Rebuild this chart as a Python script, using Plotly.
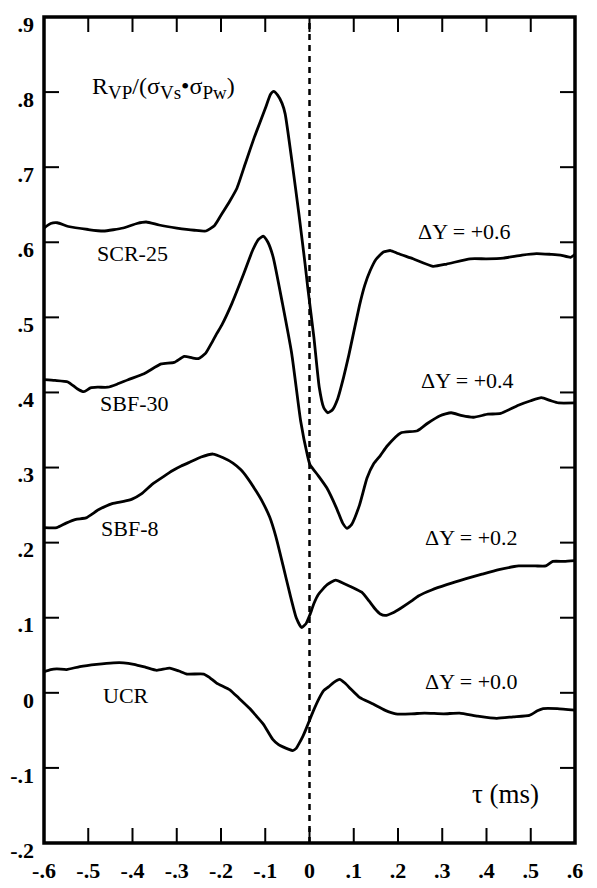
import plotly.graph_objects as go

# ---- data (values as plotted, each curve already shifted by its ΔY) ----
scr25_x = [-0.600, -0.585, -0.570, -0.545, -0.500, -0.466, -0.421, -0.390, -0.369, -0.340,
           -0.300, -0.260, -0.234, -0.215, -0.200, -0.180, -0.164, -0.145, -0.124, -0.100,
           -0.088, -0.081, -0.072, -0.062, -0.055, -0.039, -0.024, -0.010, -0.004, 0.010,
           0.022, 0.032, 0.041, 0.052, 0.064, 0.077, 0.089, 0.113, 0.125, 0.137,
           0.150, 0.167, 0.183, 0.200, 0.234, 0.279, 0.310, 0.363, 0.400, 0.438,
           0.480, 0.513, 0.545, 0.567, 0.590, 0.600]
scr25_y = [0.619, 0.625, 0.626, 0.621, 0.617, 0.615, 0.619, 0.625, 0.627, 0.623,
           0.619, 0.616, 0.615, 0.622, 0.636, 0.655, 0.672, 0.705, 0.741, 0.778,
           0.797, 0.801, 0.796, 0.785, 0.771, 0.705, 0.638, 0.571, 0.540, 0.473,
           0.407, 0.380, 0.373, 0.377, 0.392, 0.420, 0.450, 0.516, 0.543, 0.562,
           0.577, 0.587, 0.589, 0.585, 0.578, 0.568, 0.571, 0.578, 0.578, 0.579,
           0.583, 0.585, 0.584, 0.583, 0.580, 0.584]

sbf30_x = [-0.600, -0.575, -0.546, -0.525, -0.510, -0.495, -0.479, -0.456, -0.435, -0.410,
           -0.374, -0.335, -0.306, -0.283, -0.265, -0.251, -0.235, -0.221, -0.210, -0.198,
           -0.175, -0.150, -0.128, -0.115, -0.104, -0.094, -0.082, -0.061, -0.040, -0.020,
           -0.005, 0.001, 0.020, 0.039, 0.061, 0.075, 0.085, 0.095, 0.113, 0.130,
           0.145, 0.160, 0.176, 0.206, 0.244, 0.267, 0.295, 0.320, 0.345, 0.371,
           0.403, 0.432, 0.472, 0.500, 0.524, 0.545, 0.563, 0.600]
sbf30_y = [0.417, 0.416, 0.414, 0.405, 0.401, 0.406, 0.407, 0.407, 0.411, 0.417,
           0.425, 0.438, 0.440, 0.448, 0.446, 0.445, 0.452, 0.466, 0.478, 0.490,
           0.519, 0.556, 0.590, 0.604, 0.608, 0.600, 0.580, 0.518, 0.451, 0.362,
           0.317, 0.304, 0.289, 0.273, 0.246, 0.226, 0.219, 0.224, 0.250, 0.286,
           0.305, 0.316, 0.329, 0.346, 0.349, 0.359, 0.369, 0.373, 0.369, 0.367,
           0.371, 0.372, 0.383, 0.389, 0.393, 0.389, 0.386, 0.386]

sbf8_x = [-0.600, -0.571, -0.550, -0.528, -0.505, -0.476, -0.446, -0.420, -0.401, -0.380,
          -0.355, -0.330, -0.309, -0.290, -0.271, -0.245, -0.218, -0.195, -0.173, -0.155,
          -0.140, -0.120, -0.106, -0.090, -0.076, -0.060, -0.044, -0.030, -0.018, -0.008,
          0.001, 0.010, 0.020, 0.040, 0.059, 0.080, 0.095, 0.118, 0.135, 0.148,
          0.160, 0.171, 0.190, 0.207, 0.230, 0.246, 0.276, 0.310, 0.354, 0.390,
          0.428, 0.473, 0.510, 0.534, 0.550, 0.575, 0.600]
sbf8_y = [0.220, 0.220, 0.226, 0.231, 0.233, 0.244, 0.252, 0.255, 0.258, 0.265,
          0.278, 0.288, 0.296, 0.302, 0.307, 0.314, 0.318, 0.313, 0.306, 0.297,
          0.286, 0.268, 0.254, 0.234, 0.208, 0.170, 0.131, 0.100, 0.087, 0.092,
          0.104, 0.119, 0.131, 0.144, 0.150, 0.145, 0.141, 0.134, 0.122, 0.112,
          0.105, 0.103, 0.107, 0.113, 0.122, 0.129, 0.137, 0.144, 0.152, 0.158,
          0.164, 0.169, 0.169, 0.169, 0.175, 0.175, 0.176]

ucr_x = [-0.600, -0.585, -0.571, -0.549, -0.519, -0.481, -0.443, -0.420, -0.397, -0.370,
         -0.345, -0.316, -0.295, -0.277, -0.239, -0.225, -0.210, -0.180, -0.160, -0.135,
         -0.120, -0.104, -0.083, -0.070, -0.060, -0.048, -0.038, -0.030, -0.024, -0.015,
         -0.007, 0.008, 0.022, 0.032, 0.043, 0.055, 0.068, 0.080, 0.095, 0.113,
         0.144, 0.170, 0.195, 0.230, 0.260, 0.303, 0.339, 0.380, 0.423, 0.460,
         0.497, 0.515, 0.528, 0.560, 0.600]
ucr_y = [0.028, 0.031, 0.032, 0.031, 0.035, 0.038, 0.040, 0.040, 0.038, 0.034,
         0.030, 0.033, 0.029, 0.025, 0.025, 0.020, 0.013, 0.004, -0.007, -0.021,
         -0.031, -0.042, -0.062, -0.069, -0.072, -0.075, -0.077, -0.074, -0.068, -0.058,
         -0.047, -0.025, -0.007, 0.003, 0.008, 0.014, 0.018, 0.013, 0.004, -0.006,
         -0.015, -0.023, -0.028, -0.028, -0.027, -0.028, -0.027, -0.031, -0.034, -0.032,
         -0.030, -0.024, -0.021, -0.021, -0.023]

series_names = ["SCR-25", "SBF-30", "SBF-8", "UCR"]
series_x = [scr25_x, sbf30_x, sbf8_x, ucr_x]
series_y = [scr25_y, sbf30_y, sbf8_y, ucr_y]
delta_labels = ["ΔY = +0.6", "ΔY = +0.4", "ΔY = +0.2", "ΔY = +0.0"]

x_tickvals = [-0.6, -0.5, -0.4, -0.3, -0.2, -0.1, 0.0, 0.1, 0.2, 0.3, 0.4, 0.5, 0.6]
x_ticktext = ["-.6", "-.5", "-.4", "-.3", "-.2", "-.1", "0", ".1", ".2", ".3", ".4", ".5", ".6"]
y_tickvals = [-0.2, -0.1, 0.0, 0.1, 0.2, 0.3, 0.4, 0.5, 0.6, 0.7, 0.8, 0.9]
y_ticktext = ["-.2", "-.1", "0", ".1", ".2", ".3", ".4", ".5", ".6", ".7", ".8", ".9"]

X_RANGE = [-0.6, 0.6]
Y_RANGE = [-0.2, 0.9]

# label positions (data coordinates)
name_pos = [(-0.401, 0.585), (-0.397, 0.385), (-0.406, 0.219), (-0.415, -0.003)]
delta_pos = [(0.351, 0.615), (0.357, 0.416), (0.365, 0.207), (0.367, 0.015)]

FONT = "Liberation Serif, Times New Roman, serif"
W, H = 597, 888
ML, MR, MT, MB = 44, 22, 17, 45
PW, PH = W - ML - MR, H - MT - MB
TICK = 15  # px

fig = go.Figure()
for xs, ys, nm in zip(series_x, series_y, series_names):
    fig.add_trace(go.Scatter(x=xs, y=ys, mode="lines", name=nm,
                             line=dict(color="black", width=2.8, shape="spline", smoothing=0.5),
                             showlegend=False, hoverinfo="skip"))

# dashed zero line
fig.add_shape(type="line", x0=0, x1=0, y0=Y_RANGE[0], y1=Y_RANGE[1], xref="x", yref="y",
              line=dict(color="black", width=2.5, dash="6px,5px"))

# frame
fig.add_shape(type="rect", xref="paper", yref="paper", x0=0, x1=1, y0=0, y1=1,
              line=dict(color="black", width=3.5), fillcolor="rgba(0,0,0,0)", layer="above")

# inside ticks on all four sides, at the axis tick values
tk = dict(color="black", width=2)
for v in x_tickvals:
    if X_RANGE[0] < v < X_RANGE[1]:
        fig.add_shape(type="line", xref="x", yref="paper", x0=v, x1=v, y0=0, y1=TICK / PH, line=tk)
        fig.add_shape(type="line", xref="x", yref="paper", x0=v, x1=v, y0=1 - TICK / PH, y1=1, line=tk)
for v in y_tickvals:
    if Y_RANGE[0] < v < Y_RANGE[1]:
        fig.add_shape(type="line", xref="paper", yref="y", x0=0, x1=TICK / PW, y0=v, y1=v, line=tk)
        fig.add_shape(type="line", xref="paper", yref="y", x0=1 - TICK / PW, x1=1, y0=v, y1=v, line=tk)

for (x, y), t in zip(name_pos, series_names):
    fig.add_annotation(x=x, y=y, text=t, showarrow=False, xanchor="center", yanchor="middle",
                       font=dict(family=FONT, size=22, color="black"))
for (x, y), t in zip(delta_pos, delta_labels):
    fig.add_annotation(x=x, y=y, text=t, showarrow=False, xanchor="center", yanchor="middle",
                       font=dict(family=FONT, size=22, color="black"))

sub = "<span style='font-size:19px'>{}</span>"
ytitle = ("R<sub>" + sub.format("VP") + "</sub>/(σ<sub>" + sub.format("Vs") +
          "</sub>•σ<sub>" + sub.format("Pw") + "</sub>)")
fig.add_annotation(x=-0.331, y=0.805, text=ytitle, showarrow=False, xanchor="center",
                   yanchor="middle", font=dict(family=FONT, size=24, color="black"))
fig.add_annotation(x=0.442, y=-0.135, text="τ (ms)", showarrow=False, xanchor="center",
                   yanchor="middle", font=dict(family=FONT, size=27, color="black"))

axis_common = dict(showline=False, ticks="", showgrid=False, zeroline=False, automargin=False,
                   ticklabeloverflow="allow",
                   tickfont=dict(family=FONT, size=22, color="black", weight="bold"))

fig.update_xaxes(range=X_RANGE, tickvals=x_tickvals, ticktext=x_ticktext,
                 ticklabelstandoff=12, **axis_common)
fig.update_yaxes(range=Y_RANGE, tickvals=y_tickvals, ticktext=y_ticktext,
                 ticklabelstandoff=9, ticklabelshift=7, **axis_common)

fig.update_layout(width=W, height=H, margin=dict(l=ML, r=MR, t=MT, b=MB, autoexpand=False),
                  plot_bgcolor="white", paper_bgcolor="white")

fig.write_html("out.html")
